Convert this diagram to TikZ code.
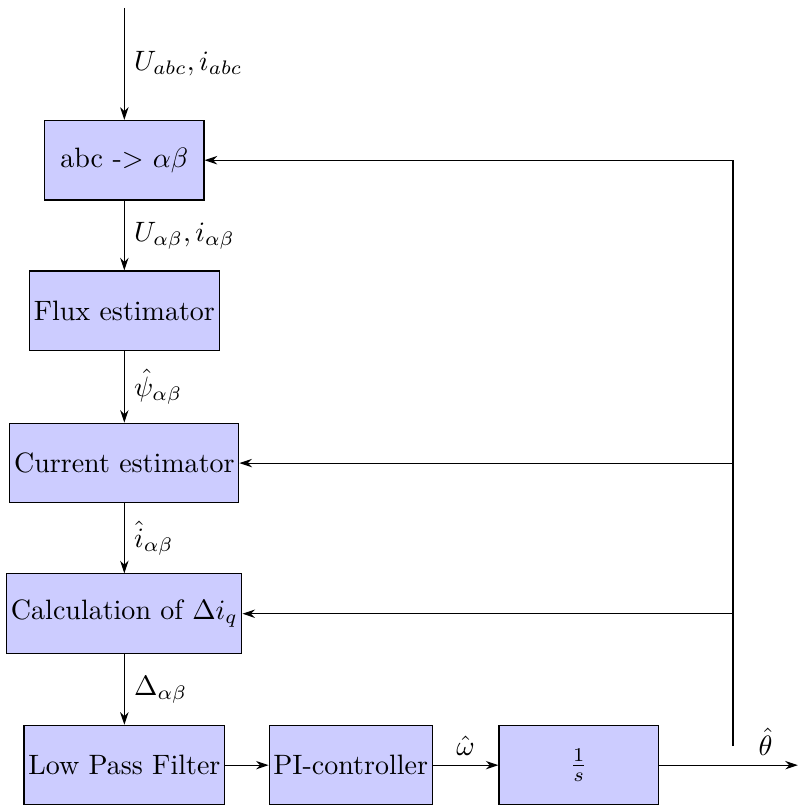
\documentclass[tikz,border=0pt]{standalone}
\usepackage{amsmath}
\usepackage{amssymb}
\usetikzlibrary{positioning, arrows.meta}

\tikzset{
	block/.style={draw, fill=blue!20, minimum width=2cm, minimum height=1cm, inner xsep=1.5pt},
	sig/.style={->, >={Stealth[length=4.5pt, width=3pt]}}
}

\begin{document}
\begin{tikzpicture}
	\useasboundingbox (0,0) rectangle (10.01,-10.1);
	
	% draw blocks
	\node[block] (abc) at (1.56,-2.01) {abc -> $\alpha\beta$};
	\node[block] (flux) at (1.56,-3.90) {Flux estimator};
	\node[block] (curr) at (1.56,-5.81) {Current estimator};
	\node[block] (calc) at (1.56,-7.70) {Calculation of $\Delta i_q$};
	\node[block] (lpf) at (1.56,-9.60) {Low Pass Filter};
	\node[block] (pi) at (4.40,-9.60) {PI-controller};
	\node[block] (integ) at (7.26,-9.60) {$\frac{1}{s}$};
	
	% draw coordinates
	\coordinate (in) at (1.56,-0.10);
	\coordinate (branch) at (9.20,-9.60);
	\coordinate (out) at (10.01,-9.60);
	\coordinate (fb) at (9.20,-9.36);
	
	% draw forward path
	\draw[sig] (in) -- (abc) node[midway,right] {$U_{abc}, i_{abc}$};
	\draw[sig] (abc) -- (flux) node[midway,right] {$U_{\alpha\beta}, i_{\alpha\beta}$};
	\draw[sig] (flux) -- (curr) node[midway,right] {$\hat{\psi}_{\alpha\beta}$};
	\draw[sig] (curr) -- (calc) node[midway,right] {$\hat{i}_{\alpha\beta}$};
	\draw[sig] (calc) -- (lpf) node[midway,right] {$\Delta_{\alpha\beta}$};
	\draw[sig] (lpf) -- (pi);
	\draw[sig] (pi) -- (integ) node[midway,above] {$\hat{\omega}$};
	\draw[sig] (integ) -- (branch) -- (out) node[midway,above] {$\hat{\theta}$};
	
	% draw feedback
	\draw[semithick] (fb) -- (fb |- abc);
	\draw[sig] (fb |- abc) -- (abc);
	\draw[sig] (fb |- curr) -- (curr);
	\draw[sig] (fb |- calc) -- (calc);
	
\end{tikzpicture}
\end{document}
